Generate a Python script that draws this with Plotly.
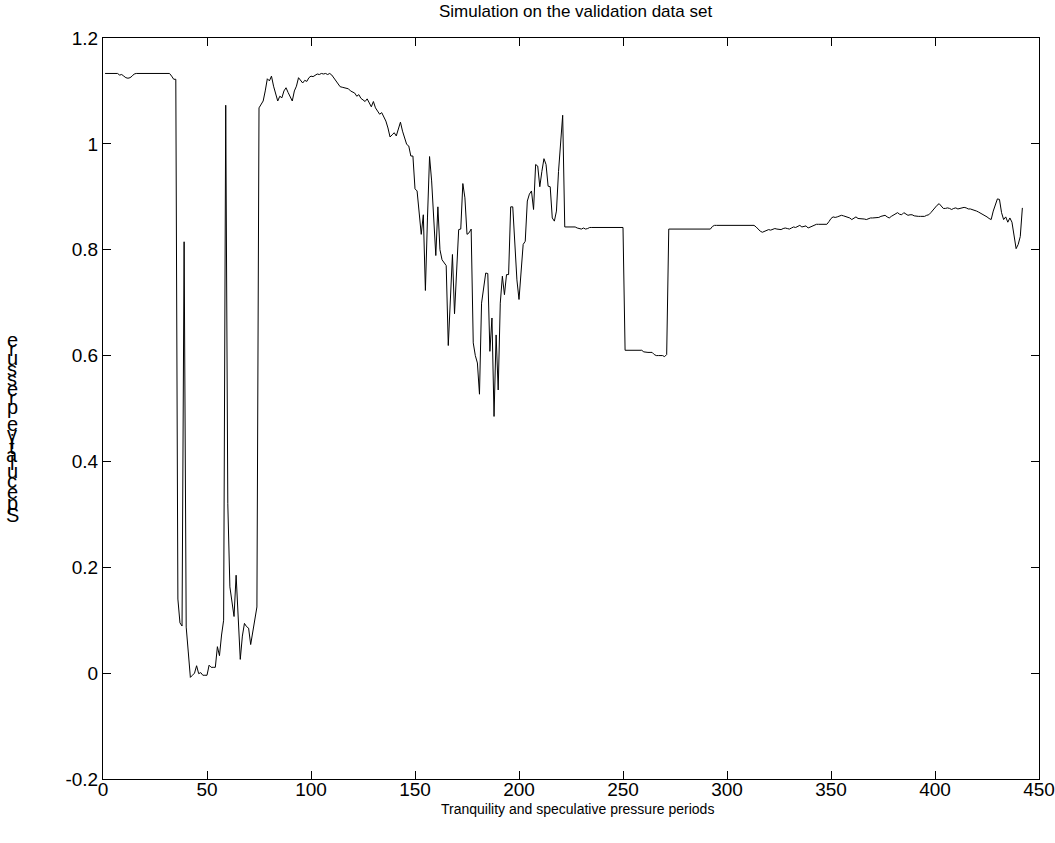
import plotly.graph_objects as go

# ---- data, periods 1..442 ----
seg_a = [1.133, 1.133, 1.133, 1.133, 1.133, 1.133, 1.133, 1.130, 1.131, 1.128,
         1.125, 1.124, 1.125, 1.128, 1.132, 1.133, 1.133, 1.133, 1.133, 1.133,
         1.133, 1.133, 1.133, 1.133, 1.133, 1.133, 1.133, 1.133, 1.133, 1.133,
         1.133, 1.133, 1.128, 1.122, 1.122]
seg_b = [0.140, 0.095, 0.089, 0.815, 0.087, 0.040, -0.008, -0.004, 0.000, 0.014,
         -0.001, 0.001, -0.004, -0.004, -0.004, 0.015, 0.011, 0.011, 0.011, 0.050,
         0.033, 0.072, 0.100, 1.073, 0.320, 0.163, 0.130, 0.107, 0.185, 0.100,
         0.026, 0.070, 0.094, 0.088, 0.085, 0.054, 0.080, 0.100, 0.125]
seg_c = [1.068, 1.075, 1.081, 1.100, 1.123, 1.119, 1.128, 1.109, 1.095, 1.081,
         1.090, 1.087, 1.100, 1.106, 1.097, 1.090, 1.081, 1.100, 1.109, 1.125,
         1.120, 1.115, 1.120, 1.118, 1.125, 1.128, 1.127, 1.130, 1.132, 1.131,
         1.133, 1.132, 1.133, 1.131, 1.133, 1.130, 1.125, 1.120, 1.115, 1.108,
         1.107, 1.106, 1.105, 1.104, 1.100, 1.098, 1.096, 1.090, 1.093, 1.086,
         1.083, 1.080, 1.085, 1.078, 1.070, 1.080, 1.068, 1.062]
seg_d = [1.056, 1.059, 1.050, 1.043, 1.030, 1.013, 1.017, 1.021, 1.015, 1.030,
         1.041, 1.024, 1.010, 0.999, 0.996, 0.977, 0.977, 0.915, 0.911, 0.870,
         0.829, 0.866, 0.723, 0.860, 0.976, 0.930, 0.860, 0.789, 0.881, 0.800,
         0.781, 0.775, 0.770, 0.619, 0.706, 0.791, 0.679, 0.760, 0.838, 0.839,
         0.925, 0.898, 0.829, 0.832, 0.839, 0.624, 0.600, 0.586, 0.527, 0.699,
         0.730, 0.756, 0.755, 0.608, 0.671, 0.485, 0.639, 0.535, 0.699, 0.750,
         0.715, 0.753, 0.753, 0.881, 0.881, 0.800, 0.743, 0.706, 0.760, 0.810,
         0.816, 0.892, 0.905, 0.911, 0.876, 0.961, 0.958, 0.919, 0.948, 0.972,
         0.961, 0.920, 0.919, 0.860, 0.854, 0.873, 0.948, 1.000, 1.054, 0.843]
seg_e = [0.843, 0.843, 0.843, 0.843, 0.843, 0.841, 0.840, 0.839, 0.841, 0.839,
         0.840, 0.842, 0.842, 0.842, 0.842, 0.842, 0.842, 0.842, 0.842, 0.842,
         0.842, 0.842, 0.842, 0.842, 0.842, 0.842, 0.842, 0.842, 0.610, 0.610,
         0.610, 0.610, 0.610, 0.610, 0.610, 0.610, 0.610, 0.607, 0.606, 0.606,
         0.606, 0.606, 0.602, 0.600, 0.600, 0.600, 0.600, 0.598, 0.602, 0.839]
seg_f = [0.839, 0.839, 0.839, 0.839, 0.839, 0.839, 0.839, 0.839, 0.839, 0.839,
         0.839, 0.839, 0.839, 0.839, 0.839, 0.839, 0.839, 0.839, 0.839, 0.839,
         0.844, 0.846, 0.846, 0.846, 0.846, 0.846, 0.846, 0.846, 0.846, 0.846,
         0.846, 0.846, 0.846, 0.846, 0.846, 0.846, 0.846, 0.846, 0.846, 0.846,
         0.846, 0.843, 0.838, 0.835, 0.833, 0.835, 0.837, 0.838, 0.837, 0.838,
         0.840, 0.839, 0.838, 0.838, 0.840, 0.841, 0.840, 0.839, 0.841, 0.843,
         0.842, 0.844, 0.846, 0.843, 0.844, 0.845, 0.841, 0.843, 0.844, 0.846,
         0.848, 0.848, 0.848, 0.848, 0.848, 0.848, 0.853, 0.859, 0.862, 0.861,
         0.862, 0.864, 0.865, 0.864, 0.863, 0.862, 0.860, 0.857, 0.860, 0.862,
         0.859, 0.859, 0.858, 0.858, 0.857, 0.859, 0.860, 0.860, 0.860, 0.860,
         0.861, 0.863, 0.864, 0.865, 0.862, 0.860, 0.863, 0.865, 0.868, 0.870,
         0.867, 0.866, 0.870, 0.868, 0.865, 0.866, 0.866, 0.864, 0.863, 0.863,
         0.863, 0.863, 0.863, 0.865, 0.866, 0.870, 0.875, 0.880, 0.884, 0.887,
         0.882, 0.878, 0.878, 0.879, 0.878, 0.876, 0.878, 0.879, 0.877, 0.878,
         0.879, 0.880, 0.879, 0.877, 0.877, 0.876, 0.875, 0.873, 0.871, 0.869,
         0.866, 0.864, 0.862, 0.859, 0.857, 0.873, 0.885, 0.896, 0.895, 0.870,
         0.857, 0.862, 0.852, 0.860, 0.852, 0.826, 0.802, 0.810, 0.825, 0.879]

values = seg_a + seg_b + seg_c + seg_d + seg_e + seg_f
periods = list(range(1, len(values) + 1))

x_ticks = [0, 50, 100, 150, 200, 250, 300, 350, 400, 450]
x_tick_labels = ["0", "50", "100", "150", "200", "250", "300", "350", "400", "450"]
y_ticks = [-0.2, 0.0, 0.2, 0.4, 0.6, 0.8, 1.0, 1.2]
y_tick_labels = ["-0.2", "0", "0.2", "0.4", "0.6", "0.8", "1", "1.2"]

title_text = "Simulation on the validation data set"
x_title = "Tranquility and speculative pressure periods"
y_title = "Speculative pressure"

# ---- figure ----
W, H = 1055, 843
L, R, T, B = 103, 16, 38, 64
pw, ph = W - L - R, H - T - B

def px_to_paper(px, py):
    return (px - L) / pw, (H - B - py) / ph

FONT = "Liberation Sans, Arial, Helvetica, sans-serif"

fig = go.Figure(go.Scatter(x=periods, y=values, mode="lines",
                           line=dict(color="black", width=1),
                           hoverinfo="x+y"))

fig.update_layout(
    width=W, height=H,
    margin=dict(l=L, r=R, t=T, b=B, pad=0, autoexpand=False),
    paper_bgcolor="white", plot_bgcolor="white",
    showlegend=False,
    font=dict(family=FONT, color="black"),
)
axis_common = dict(ticks="inside", ticklen=8, tickwidth=1, tickcolor="black",
                   mirror="ticks", showline=True, linecolor="black", linewidth=1,
                   showgrid=False, zeroline=False, automargin=False,
                   tickfont=dict(family=FONT, size=19, color="black"))
fig.update_xaxes(range=[0, 450], tickvals=x_ticks, ticktext=x_tick_labels,
                 ticklabelstandoff=-7, **axis_common)
fig.update_yaxes(range=[-0.2, 1.2], tickvals=y_ticks, ticktext=y_tick_labels, **axis_common)

annotations = []
tx, ty = px_to_paper(575, 12)
annotations.append(dict(text=title_text, x=tx, y=ty, xref="paper", yref="paper",
                        xanchor="center", yanchor="middle", showarrow=False,
                        font=dict(family=FONT, size=17, color="black")))
tx, ty = px_to_paper(577, 809)
annotations.append(dict(text=x_title, x=tx, y=ty, xref="paper", yref="paper",
                        xanchor="center", yanchor="middle", showarrow=False,
                        font=dict(family=FONT, size=14, color="black")))

# y label: upright glyphs stacked bottom-to-top (as in the reference rendering)
char_w = {"S": 0.667, "p": 0.556, "e": 0.556, "c": 0.5, "u": 0.556, "l": 0.222,
          "a": 0.556, "t": 0.278, "i": 0.222, "v": 0.5, " ": 0.278, "r": 0.333,
          "s": 0.5}
fs = 20
cy = 515.0
prev_w = None
for ch in y_title:
    w = char_w.get(ch, 0.5)
    if prev_w is not None:
        cy -= (prev_w / 2 + w / 2) * fs
    prev_w = w
    if ch == " ":
        continue
    ax, ay = px_to_paper(12, cy)
    annotations.append(dict(text=ch, x=ax, y=ay, xref="paper", yref="paper",
                            xanchor="center", yanchor="middle", showarrow=False,
                            font=dict(family=FONT, size=fs, color="black")))

fig.update_layout(annotations=annotations)
fig.write_html("out.html")
